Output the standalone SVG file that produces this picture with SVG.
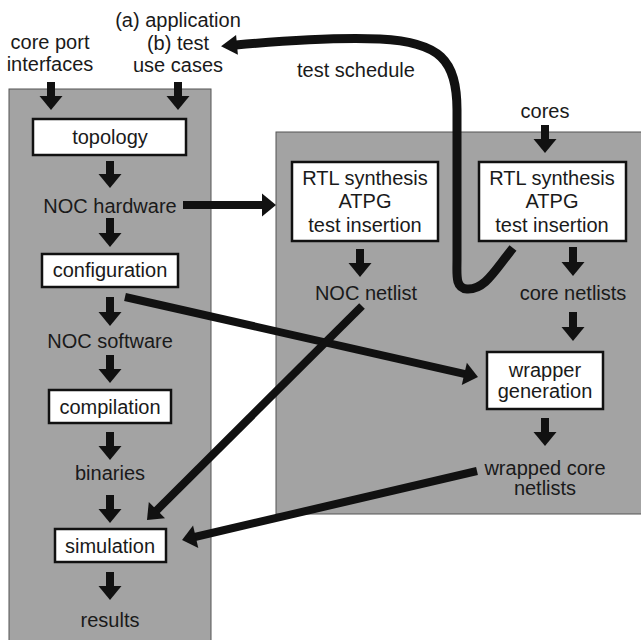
<svg xmlns="http://www.w3.org/2000/svg" width="641" height="640" viewBox="0 0 641 640">
<style>
text{font-family:"Liberation Sans",Arial,sans-serif;font-size:20px;fill:#1a1a1a;text-anchor:middle}
.panel{fill:#a3a3a3;stroke:#555;stroke-width:1}
.box{fill:#fff;stroke:#111;stroke-width:2.5}
.ar{stroke:#111;stroke-width:8;fill:none;marker-end:url(#ah)}
.cv{stroke:#111;stroke-width:9;fill:none;marker-end:url(#ah2)}
</style>
<defs>
<marker id="ah" markerUnits="userSpaceOnUse" markerWidth="16" markerHeight="26" viewBox="-2 -13 16 26" refX="0" refY="0" orient="auto"><path d="M-1,-11.5 L13,0 L-1,11.5 z" fill="#111"/></marker>
<marker id="ah2" markerUnits="userSpaceOnUse" markerWidth="20" markerHeight="26" viewBox="-2 -13 20 26" refX="0" refY="0" orient="auto"><path d="M-1,-10 L15,0 L-1,10 z" fill="#111"/></marker>
</defs>
<rect class="panel" x="9" y="89" width="202" height="560"/>
<rect class="panel" x="276" y="132" width="370" height="382"/>
<g id="label-coreport"><text x="50" y="49">core port</text><text x="50" y="71">interfaces</text></g>
<g id="label-usecases"><text x="178" y="27">(a) application</text><text x="178" y="50">(b) test</text><text x="178" y="72">use cases</text></g>
<g id="label-testschedule"><text x="356" y="77">test schedule</text></g>
<g id="topology"><rect class="box" x="33" y="119" width="153" height="36"/><text x="110" y="144">topology</text></g>
<g id="noc-hardware"><text x="110" y="213">NOC hardware</text></g>
<g id="configuration"><rect class="box" x="42" y="254" width="136" height="33"/><text x="110" y="277">configuration</text></g>
<g id="noc-software"><text x="110" y="348">NOC software</text></g>
<g id="compilation"><rect class="box" x="49" y="390" width="122" height="33"/><text x="110" y="414">compilation</text></g>
<g id="binaries"><text x="110" y="480">binaries</text></g>
<g id="simulation"><rect class="box" x="55" y="529" width="111" height="33"/><text x="110" y="553">simulation</text></g>
<g id="results"><text x="110" y="627">results</text></g>
<g id="rtl-noc"><rect class="box" x="292" y="162" width="146" height="79"/><text x="365" y="185">RTL synthesis</text><text x="365" y="208">ATPG</text><text x="365" y="232">test insertion</text></g>
<g id="cores"><text x="545" y="118">cores</text></g>
<g id="rtl-core"><rect class="box" x="479" y="162" width="147" height="79"/><text x="552" y="185">RTL synthesis</text><text x="552" y="208">ATPG</text><text x="552" y="232">test insertion</text></g>
<g id="noc-netlist"><text x="366" y="300">NOC netlist</text></g>
<g id="core-netlists"><text x="573" y="300">core netlists</text></g>
<g id="wrapper"><rect class="box" x="487" y="352" width="116" height="57"/><text x="545" y="377">wrapper</text><text x="545" y="398">generation</text></g>
<g id="wrapped"><text x="545" y="475">wrapped core</text><text x="545" y="495">netlists</text></g>
<g id="connectors">
<line class="ar" x1="51" y1="82" x2="51" y2="97"/>
<line class="ar" x1="178" y1="82" x2="178" y2="97"/>
<line class="ar" x1="110" y1="161" x2="110" y2="175"/>
<line class="ar" x1="110" y1="218" x2="110" y2="234"/>
<line class="ar" x1="110" y1="297" x2="110" y2="313"/>
<line class="ar" x1="110" y1="355" x2="110" y2="370"/>
<line class="ar" x1="110" y1="432" x2="110" y2="447"/>
<line class="ar" x1="110" y1="495" x2="110" y2="510"/>
<line class="ar" x1="110" y1="572" x2="110" y2="587"/>
<line class="ar" x1="545" y1="125" x2="545" y2="140"/>
<line class="ar" x1="360" y1="249" x2="360" y2="264"/>
<line class="ar" x1="573" y1="247" x2="573" y2="263"/>
<line class="ar" x1="573" y1="312" x2="573" y2="328"/>
<line class="ar" x1="545" y1="418" x2="545" y2="433"/>
<line class="ar" x1="183" y1="205" x2="263" y2="205"/>
<line class="ar" x1="125" y1="297" x2="465.3" y2="374.1"/>
<line class="ar" x1="362" y1="306" x2="156.2" y2="510.8"/>
<line class="ar" x1="477" y1="471" x2="194.7" y2="537"/>
<path class="cv" d="M 513 248 C 495 270, 485 290, 467 289 C 455 288, 457 275, 457 260 L 457 110 C 457 60, 440 42, 380 39 C 330 37, 280 41, 236 45"/>
</g>
</svg>
